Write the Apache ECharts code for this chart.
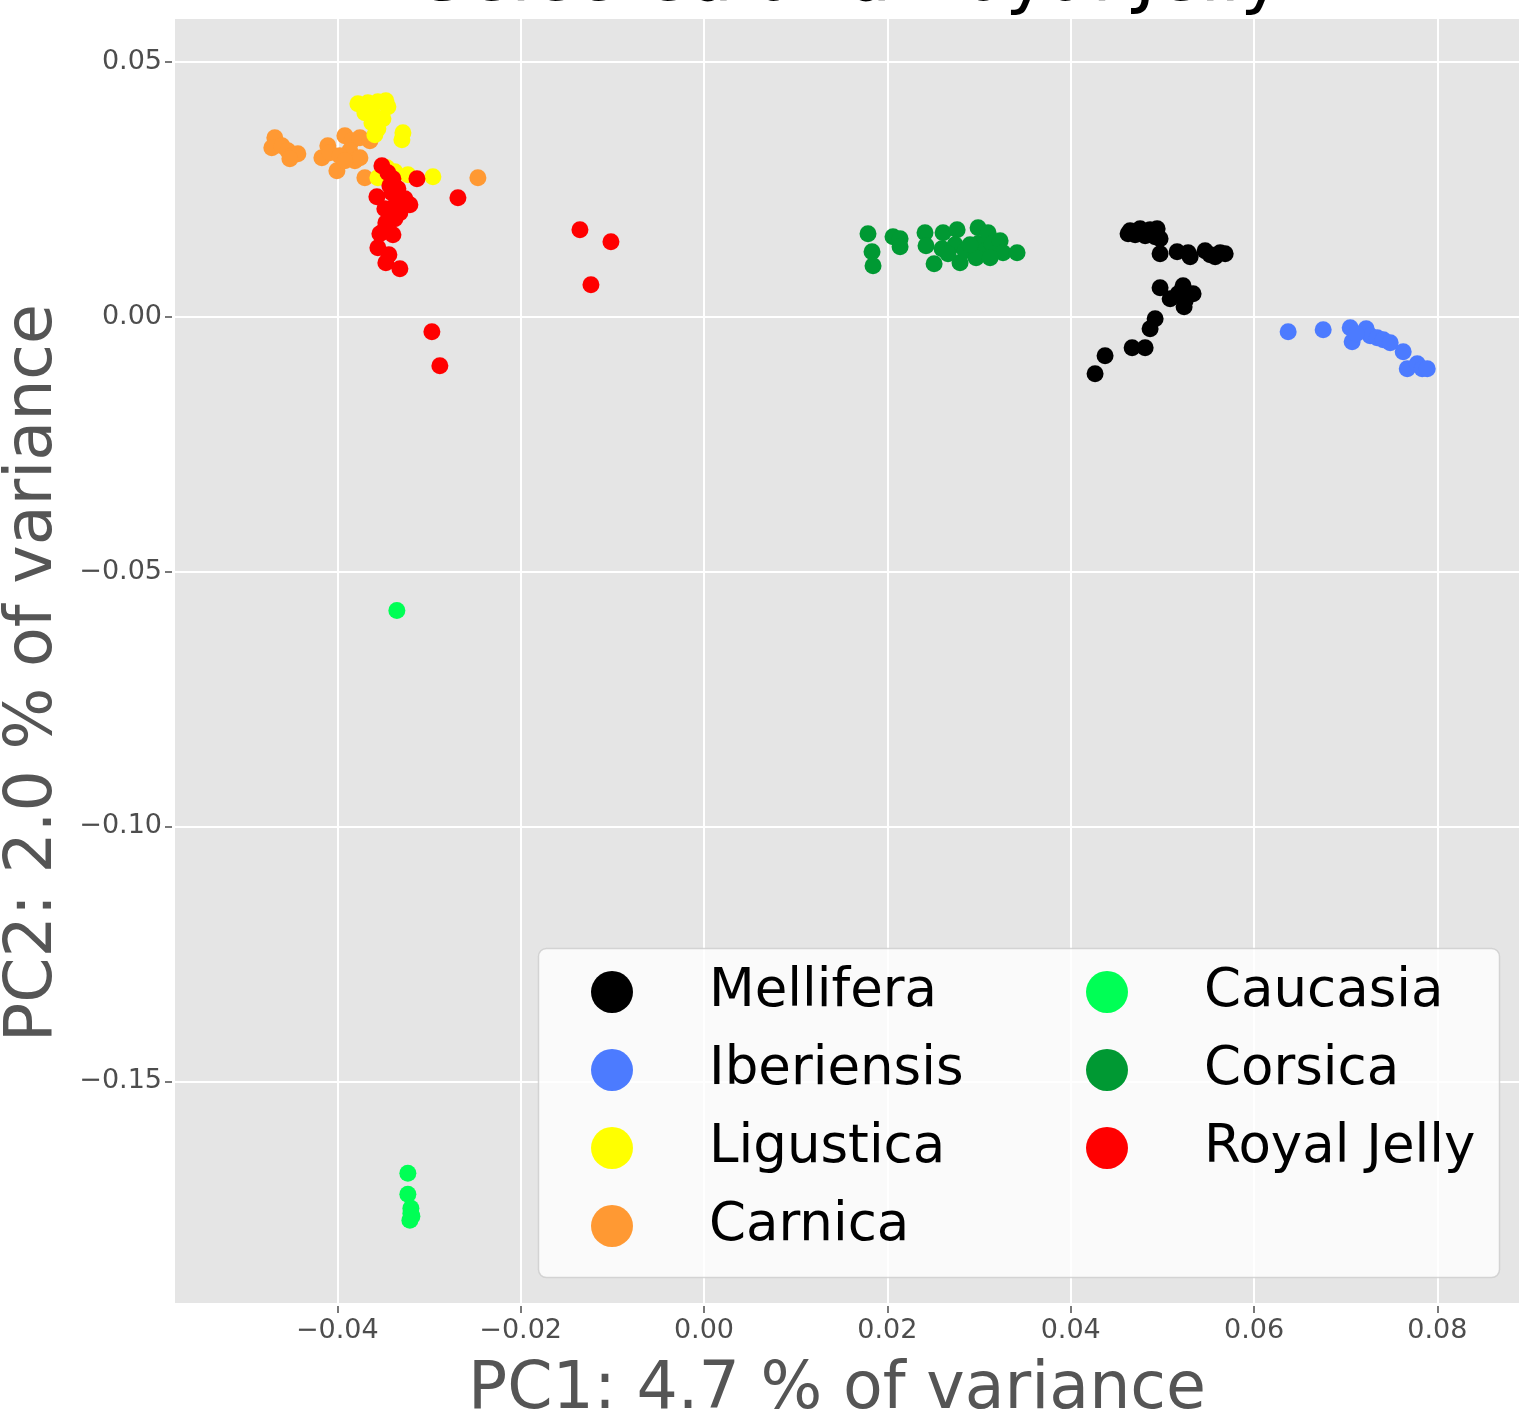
<!DOCTYPE html>
<html>
<head>
<meta charset="utf-8">
<title>PCA</title>
<script src="https://cdn.jsdelivr.net/npm/echarts@6/dist/echarts.min.js"></script>
<style>
  html, body { margin: 0; padding: 0; background: #ffffff; }
  #chart { width: 1519px; height: 1409px; }
</style>
</head>
<body>
<div id="chart"></div>
<script>
// PC1 / PC2 scores per sample, grouped by subspecies
const mellifera = [
  [0.04648, 0.01686], [0.04757, 0.01725], [0.04866, 0.01706], [0.04943, 0.01725],
  [0.04703, 0.01608], [0.04812, 0.01588], [0.04921, 0.01569], [0.04626, 0.01627],
  [0.04845, 0.01647], [0.04975, 0.01529], [0.04975, 0.01235], [0.05161, 0.01275],
  [0.05281, 0.01255], [0.05303, 0.01176], [0.05466, 0.01294], [0.05521, 0.01216],
  [0.05576, 0.01176], [0.05630, 0.01255], [0.05685, 0.01235], [0.04975, 0.00569],
  [0.05085, 0.00353], [0.05226, 0.00608], [0.05248, 0.00314], [0.05335, 0.00451],
  [0.05237, 0.00196], [0.05172, 0.00451], [0.04921, -0.00039], [0.04866, -0.00235],
  [0.04812, -0.00608], [0.04670, -0.00608], [0.04375, -0.00765], [0.04266, -0.01118]
];
const iberiensis = [
  [0.06372, -0.00294], [0.06754, -0.00255], [0.07049, -0.00216], [0.07070, -0.00490],
  [0.07223, -0.00235], [0.07267, -0.00373], [0.07343, -0.00412], [0.07409, -0.00451],
  [0.07485, -0.00510], [0.07627, -0.00686], [0.07671, -0.01020], [0.07780, -0.00922],
  [0.07834, -0.01020], [0.07889, -0.01020], [0.07114, -0.00333]
];
const ligustica = [
  [-0.03775, 0.04176], [-0.03666, 0.04196], [-0.03557, 0.04216], [-0.03470, 0.04235],
  [-0.03448, 0.04118], [-0.03699, 0.04000], [-0.03601, 0.03941], [-0.03502, 0.03882],
  [-0.03622, 0.03804], [-0.03557, 0.03686], [-0.03590, 0.03569], [-0.03284, 0.03608],
  [-0.03295, 0.03471], [-0.02957, 0.02745], [-0.03557, 0.02725], [-0.03459, 0.02922],
  [-0.03372, 0.02843], [-0.03230, 0.02784]
];
const carnica = [
  [-0.04681, 0.03510], [-0.04714, 0.03314], [-0.04604, 0.03353], [-0.04539, 0.03255],
  [-0.04495, 0.03157], [-0.04430, 0.03196], [-0.04517, 0.03098], [-0.04103, 0.03353],
  [-0.04168, 0.03118], [-0.04081, 0.03216], [-0.04004, 0.02863], [-0.03917, 0.03549],
  [-0.03841, 0.03451], [-0.03753, 0.03510], [-0.03863, 0.03255], [-0.03808, 0.03059],
  [-0.03753, 0.03118], [-0.03972, 0.03157], [-0.03699, 0.02725], [-0.02466, 0.02725],
  [-0.03644, 0.03451], [-0.03917, 0.03059]
];
const caucasia = [
  [-0.03350, -0.05765], [-0.03230, -0.16804], [-0.03230, -0.17216], [-0.03197, -0.17490],
  [-0.03197, -0.17588], [-0.03208, -0.17725], [-0.03186, -0.17647]
];
const corsica = [
  [0.01789, 0.01627], [0.01833, 0.01275], [0.01844, 0.01000], [0.02062, 0.01569],
  [0.02139, 0.01529], [0.02139, 0.01373], [0.02411, 0.01647], [0.02422, 0.01392],
  [0.02510, 0.01039], [0.02608, 0.01647], [0.02597, 0.01333], [0.02761, 0.01706],
  [0.02739, 0.01412], [0.02793, 0.01059], [0.02848, 0.01294], [0.02990, 0.01745],
  [0.02990, 0.01431], [0.03066, 0.01294], [0.03099, 0.01647], [0.03142, 0.01431],
  [0.03230, 0.01490], [0.03262, 0.01255], [0.03415, 0.01255], [0.02968, 0.01157],
  [0.03121, 0.01157], [0.02902, 0.01412], [0.02662, 0.01235]
];
const royalJelly = [
  [-0.03513, 0.02961], [-0.03448, 0.02824], [-0.03393, 0.02706], [-0.03131, 0.02706],
  [-0.03568, 0.02353], [-0.03426, 0.02569], [-0.03339, 0.02510], [-0.03262, 0.02314],
  [-0.03208, 0.02196], [-0.03372, 0.02176], [-0.03481, 0.02118], [-0.03317, 0.02039],
  [-0.03470, 0.01843], [-0.03372, 0.01922], [-0.03535, 0.01627], [-0.03393, 0.01608],
  [-0.03557, 0.01353], [-0.03437, 0.01216], [-0.03470, 0.01059], [-0.03317, 0.00941],
  [-0.02684, 0.02333], [-0.02968, -0.00294], [-0.02881, -0.00961], [-0.01353, 0.01706],
  [-0.01015, 0.01471], [-0.01233, 0.00627], [-0.03492, 0.01686], [-0.03404, 0.02431]
];

const xTickValues = [-0.04, -0.02, 0.00, 0.02, 0.04, 0.06, 0.08];
const yTickValues = [-0.15, -0.10, -0.05, 0.00, 0.05];
const xRange = [-0.0577, 0.0889];
const yRange = [-0.1935, 0.0584];

const titleText = 'Selected and Royal Jelly';
const xName = 'PC1: 4.7 % of variance';
const yName = 'PC2: 2.0 % of variance';

const legendLeft = ['Mellifera', 'Iberiensis', 'Ligustica', 'Carnica'];
const legendRight = ['Caucasia', 'Corsica', 'Royal Jelly'];

// drawing order: later groups sit on top
const groups = [
  { name: 'Mellifera', data: mellifera, color: '#000000' },
  { name: 'Iberiensis', data: iberiensis, color: '#4c7bff' },
  { name: 'Carnica', data: carnica, color: '#ff9933' },
  { name: 'Ligustica', data: ligustica, color: '#ffff00' },
  { name: 'Caucasia', data: caucasia, color: '#00ff55' },
  { name: 'Corsica', data: corsica, color: '#009933' },
  { name: 'Royal Jelly', data: royalJelly, color: '#ff0000' }
];

const FONT = 'DejaVu Sans';
const fmt = v => v.toFixed(2).replace('-', '\u2212');

const chart = echarts.init(document.getElementById('chart'), null, { renderer: 'canvas' });

const legendBase = {
  orient: 'vertical',
  top: 964,
  padding: 0,
  itemWidth: 42,
  itemHeight: 42,
  itemGap: 22,
  icon: 'circle',
  selectedMode: false,
  textStyle: {
    fontFamily: FONT, fontSize: 53, lineHeight: 56, color: '#000000',
    padding: [0, 0, 0, 71]
  }
};

chart.setOption({
  backgroundColor: '#ffffff',
  animation: false,
  textStyle: { fontFamily: FONT },
  title: {
    text: titleText,
    left: 847,
    textAlign: 'center',
    top: -60,
    textStyle: { fontFamily: FONT, fontSize: 72, lineHeight: 72, fontWeight: 'normal', color: '#000000' }
  },
  grid: {
    left: 175, right: 0, top: 19, bottom: 106,
    outerBoundsMode: 'none', containLabel: false,
    backgroundColor: '#e5e5e5', show: true, borderWidth: 0
  },
  xAxis: {
    type: 'value',
    min: xRange[0], max: xRange[1],
    splitNumber: 7,
    offset: 3,
    name: xName,
    nameLocation: 'middle',
    nameGap: 53,
    nameTextStyle: { fontFamily: FONT, fontSize: 65, color: '#555555', padding: [0, 20, 0, 0] },
    axisLine: { show: false, onZero: false },
    axisTick: { show: true, length: 7, customValues: xTickValues, lineStyle: { color: '#4d4d4d', width: 1.5 } },
    axisLabel: { customValues: xTickValues, formatter: fmt, fontFamily: FONT, fontSize: 27, color: '#4d4d4d', margin: 11 },
    splitLine: { show: true, lineStyle: { color: '#ffffff', width: 2 } }
  },
  yAxis: {
    type: 'value',
    min: yRange[0], max: yRange[1],
    splitNumber: 5,
    offset: 3,
    name: yName,
    nameLocation: 'middle',
    nameGap: 105,
    nameTextStyle: { fontFamily: FONT, fontSize: 65, color: '#555555', padding: [0, 24, 0, 0] },
    axisLine: { show: false, onZero: false },
    axisTick: { show: true, length: 7, customValues: yTickValues, lineStyle: { color: '#4d4d4d', width: 1.5 } },
    axisLabel: { customValues: yTickValues, formatter: fmt, fontFamily: FONT, fontSize: 27, color: '#4d4d4d', margin: 10 },
    splitLine: { show: true, lineStyle: { color: '#ffffff', width: 2 } }
  },
  legend: [
    Object.assign({}, legendBase, { left: 591, data: legendLeft }),
    Object.assign({}, legendBase, { left: 1086, data: legendRight })
  ],
  graphic: [{
    type: 'rect',
    z: 3,
    shape: { x: 538.5, y: 948.5, width: 961, height: 329, r: 8 },
    style: { fill: 'rgba(255,255,255,0.8)', stroke: 'rgba(204,204,204,0.8)', lineWidth: 1.5 }
  }],
  series: groups.map(g => ({
    type: 'scatter',
    name: g.name,
    data: g.data,
    symbol: 'circle',
    symbolSize: 17,
    itemStyle: { color: g.color, opacity: 1 },
    emphasis: { disabled: true }
  }))
});
</script>
</body>
</html>
